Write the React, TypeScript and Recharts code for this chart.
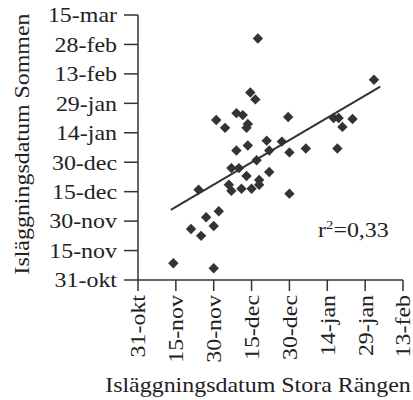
import React from "react"
import {
  ScatterChart,
  Scatter,
  XAxis,
  YAxis,
  ReferenceLine,
} from "recharts"

// days counted from 31-okt
const xTickDays = [0, 15, 30, 45, 60, 75, 90, 105]
const xTickLabels = ["31-okt", "15-nov", "30-nov", "15-dec", "30-dec", "14-jan", "29-jan", "13-feb"]
const yTickDays = [0, 15, 30, 45, 60, 75, 90, 105, 120, 135]
const yTickLabels = ["31-okt", "15-nov", "30-nov", "15-dec", "30-dec", "14-jan", "29-jan", "13-feb", "28-feb", "15-mar"]

// freeze-up day, Stora Rängen (x) vs Sommen (y)
const rangenDays = [
  14, 30, 21, 25, 27, 30, 32, 24, 36, 37, 37, 40, 41, 43, 45, 48, 48, 47, 52, 52, 51, 57,
  39, 43.5, 43, 43.5, 39, 41.5, 31, 34.5, 44.5, 46.5, 47.5, 59.5, 60, 60, 66.5, 77.5, 79.5,
  81, 79, 85, 93.5,
]
const sommenDays = [
  8.5, 6, 26, 22.5, 32, 27.5, 35, 46, 48.5, 45.5, 57, 57, 46.5, 53, 46.5, 51, 48.5, 61, 55, 66, 71, 70.5,
  66, 68.5, 77.5, 79.5, 85, 84, 81.5, 77.5, 95.5, 92, 123, 83, 65, 44, 67, 82.5, 82.5,
  78, 67, 82, 102,
]

const trendX = [13, 96]
const trendY = [35.7, 98.5]
const r2Text = "0,33"

const points = rangenDays.map((x, i) => ({ x, y: sommenDays[i] }))

const FONT = "'Liberation Serif', 'DejaVu Serif', serif"
const INK = "#333"
const STRETCH = 1.14

const Diamond = (props: any) => {
  const { cx, cy } = props
  const r = 5.2
  return (
    <polygon
      points={`${cx},${cy - r} ${cx + r},${cy} ${cx},${cy + r} ${cx - r},${cy}`}
      fill={INK}
    />
  )
}

const YTick = (props: any) => {
  const { x, y, payload } = props
  const i = yTickDays.indexOf(payload.value)
  return (
    <text
      transform={`translate(${x - 5},${y}) scale(${STRETCH},1)`}
      textAnchor="end"
      dy="0.35em"
      fontSize={21}
      fontFamily={FONT}
      fill="#222"
    >
      {yTickLabels[i]}
    </text>
  )
}

const XTick = (props: any) => {
  const { x, y, payload } = props
  const i = xTickDays.indexOf(payload.value)
  return (
    <text
      transform={`translate(${x},${y + 2}) rotate(-90) scale(${STRETCH},1)`}
      textAnchor="end"
      dy="0.35em"
      fontSize={21}
      fontFamily={FONT}
      fill="#222"
    >
      {xTickLabels[i]}
    </text>
  )
}

export default function App() {
  return (
    <div style={{ position: "absolute", left: 0, top: 0, background: "#fff" }}>
      <ScatterChart
        width={413}
        height={400}
        margin={{ top: 15, right: 10, left: 0, bottom: 0 }}
      >
        <XAxis
          type="number"
          dataKey="x"
          domain={[0, 105]}
          ticks={xTickDays}
          interval={0}
          height={120}
          tickSize={11}
          stroke={INK}
          strokeWidth={1.5}
          tick={<XTick />}
        />
        <YAxis
          type="number"
          dataKey="y"
          domain={[0, 135]}
          ticks={yTickDays}
          interval={0}
          width={138}
          tickSize={14}
          stroke={INK}
          strokeWidth={1.5}
          tick={<YTick />}
        />
        <ReferenceLine
          segment={[
            { x: trendX[0], y: trendY[0] },
            { x: trendX[1], y: trendY[1] },
          ]}
          stroke={INK}
          strokeWidth={2}
        />
        <Scatter
          data={points}
          shape={<Diamond />}
          isAnimationActive={false}
        />
        <text
          transform={`translate(22,144) rotate(-90) scale(${STRETCH},1)`}
          textAnchor="middle"
          dy="0.35em"
          fontSize={21}
          fontFamily={FONT}
          fill="#222"
        >
          Isläggningsdatum Sommen
        </text>
        <text
          transform={`translate(258,392) scale(${STRETCH},1)`}
          textAnchor="middle"
          fontSize={21}
          fontFamily={FONT}
          fill="#222"
        >
          Isläggningsdatum Stora Rängen
        </text>
        <text
          transform={`translate(318,237) scale(${STRETCH},1)`}
          fontSize={21}
          fontFamily={FONT}
          fill="#222"
        >
          r<tspan dy="-8" fontSize={13}>2</tspan>
          <tspan dy="8">={r2Text}</tspan>
        </text>
      </ScatterChart>
    </div>
  )
}
